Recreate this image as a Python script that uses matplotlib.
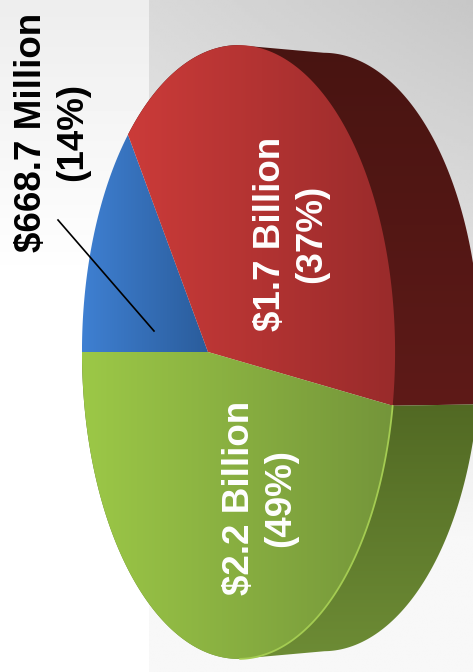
import numpy as np
import matplotlib
matplotlib.use("Agg")
import matplotlib.pyplot as plt
from matplotlib.colors import LinearSegmentedColormap
from matplotlib.patches import Polygon

# ── data ─────────────────────────────────────────────────────────────────────
segments = ["blue", "red", "green"]
shares = [14.9, 37.4, 47.7]  # drawn angular shares, percent
labels = ["$668.7 Million\n(14%)", "$1.7 Billion\n(37%)", "$2.2 Billion\n(49%)"]
face_left = ["#3f80d2", "#cb3b39", "#9cc847"]
face_right = ["#2a5c9b", "#992b2b", "#74953a"]
side_top = ["#2a5c9b", "#481411", "#4c6220"]
side_bottom = ["#2a5c9b", "#5e1a18", "#6d8c35"]

# ── geometry of the tilted disc ──────────────────────────────────────────────
APEX = (208, 352)
A, B, K = 150.6, 301.0, -0.195
DEPTH_X, DEPTH_Y = 85, 0.975


def project(theta):
    u, v = np.cos(theta), np.sin(theta)
    w = 1 + K * u
    return APEX[0] + A * u / w, APEX[1] - B * v / w


def gradient(ax, poly, c0, c1, vertical=False):
    xs, ys = poly[:, 0], poly[:, 1]
    cmap = LinearSegmentedColormap.from_list("g", [c0, c1])
    ramp = np.linspace(0, 1, 256)
    ramp = ramp[:, None] if vertical else ramp[None, :]
    im = ax.imshow(ramp, cmap=cmap, aspect="auto", interpolation="bilinear",
                   extent=(xs.min(), xs.max(), ys.max(), ys.min()))
    patch = Polygon(poly, closed=True, transform=ax.transData, facecolor="none", edgecolor="none")
    ax.add_patch(patch)
    im.set_clip_path(patch)
    return im


fig = plt.figure(figsize=(4.73, 6.72), dpi=100)
ax = fig.add_axes([0, 0, 1, 1])

# ── background panels ────────────────────────────────────────────────────────
yy, xx = np.mgrid[0:1:200j, 0:1:200j]
right_panel = 0.85 - 0.07 * xx + (0.97 - 0.85 + 0.07 * xx) * np.clip(yy / 0.8, 0, 1)
left_panel = 0.93 + 0.07 * np.clip(yy / 0.42, 0, 1)
ax.imshow(left_panel[:, :1], cmap="gray", vmin=0, vmax=1, aspect="auto", extent=(0, 149, 672, 0))
ax.imshow(right_panel, cmap="gray", vmin=0, vmax=1, aspect="auto", extent=(149, 473, 672, 0))

# ── slices ───────────────────────────────────────────────────────────────────
edges = np.pi - np.radians(np.cumsum([0] + shares) * 3.6)
faces = []
for i, name in enumerate(segments):
    t = np.linspace(edges[i], edges[i + 1], 300)
    x, y = project(t)
    front = np.c_[x, y]
    back = np.c_[x + DEPTH_X, APEX[1] + (y - APEX[1]) * DEPTH_Y]
    # wall outline: switch from front rim to back rim at the tangent point
    if name == "red":
        k = np.argmin(y)
        side = np.vstack([front[:k], back[k:], front[-1:]])
    elif name == "green":
        k = np.argmax(y)
        side = np.vstack([front[:1], back[:k], front[k:]])
    if name != "blue":
        gradient(ax, side, side_top[i], side_bottom[i], vertical=True)
    faces.append(np.vstack([[APEX], front]))

for i, face in enumerate(faces):
    gradient(ax, face, face_left[i], face_right[i])

# light rim on the green slice
t = np.linspace(edges[2], edges[2] - np.radians(70), 100)
rim_x, rim_y = project(t)
ax.plot(rim_x, rim_y, color="#a4cc52", lw=1.3, solid_capstyle="round")

# ── labels and leader ────────────────────────────────────────────────────────
font = dict(family="Liberation Sans", fontweight="bold", fontsize=26.5, rotation=90,
            ha="center", va="center", multialignment="center", linespacing=1.22)
ax.text(52, 132, labels[0], color="black", **font)
ax.text(291, 234, labels[1], color="white", **font)
ax.text(260, 498, labels[2], color="white", **font)
ax.plot([58, 154], [220, 331], color="black", lw=1.2)

ax.set_xlim(0, 473)
ax.set_ylim(672, 0)
ax.axis("off")

fig.savefig("out.png", dpi=100)
